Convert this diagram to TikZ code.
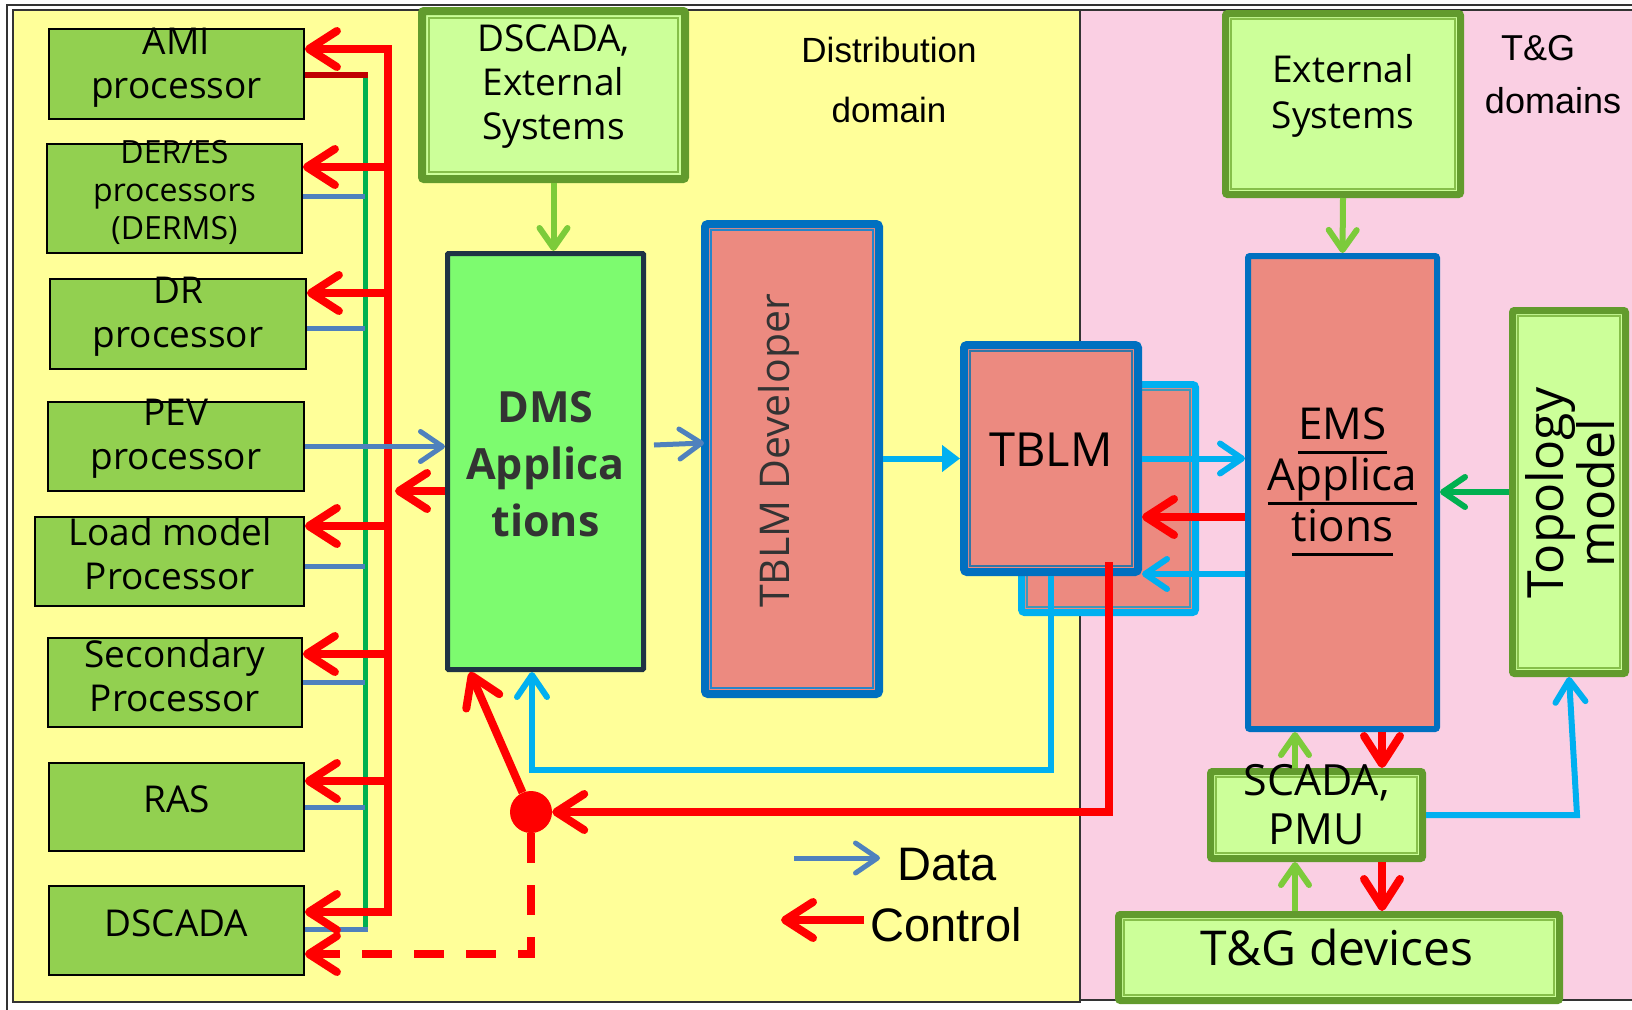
\documentclass[tikz,border=0pt]{standalone}
\usepackage{fontspec}
\setmainfont{Open Sans}
\newfontfamily\arialf{Liberation Sans}
\usetikzlibrary{arrows.meta,calc}
\definecolor{yel}{HTML}{FFFF99}
\definecolor{pnk}{HTML}{FACFE3}
\definecolor{lgreen}{HTML}{92D050}
\definecolor{pgreen}{HTML}{CCFF99}
\definecolor{bgreen}{HTML}{629B2D}
\definecolor{ilg}{HTML}{86BF4A}
\definecolor{dmsg}{HTML}{7DFB6F}
\definecolor{salmon}{HTML}{EC8A80}
\definecolor{dblue}{HTML}{0070C0}
\definecolor{cyanb}{HTML}{00B0F0}
\definecolor{sblue}{HTML}{4F81BD}
\definecolor{gline}{HTML}{00B050}
\definecolor{agreen}{HTML}{7CCB3A}
\definecolor{navy}{HTML}{1F3344}
\definecolor{dred}{HTML}{C00000}
\definecolor{txtg}{HTML}{333333}
\newcommand\myul[1]{\setbox0\hbox{#1}\rlap{\rule[-14pt]{\wd0}{2.6pt}}\box0}
\begin{document}
\begin{tikzpicture}[x=1pt,y=-1pt,
  lbox/.style={draw=black,line width=1.8pt,fill=lgreen,rectangle,inner sep=0pt},
  ltxt/.style={align=center,inner sep=0pt,font=\fontsize{37}{44}\selectfont},
  gbox/.style={draw=bgreen,line width=7pt,fill=pgreen,rectangle,rounded corners=2pt,inner sep=0pt},
  ctl/.style={draw=red,line width=8pt,-{Straight Barb[length=28pt,width=36pt,round]}},
  dat/.style={draw=sblue,line width=5pt,-{Straight Barb[length=22pt,width=30pt,round]}},
  cya/.style={draw=cyanb,line width=6pt,-{Straight Barb[length=22pt,width=30pt,round]}},
  lga/.style={draw=agreen,line width=6pt,-{Straight Barb[length=20pt,width=28pt,round]}},
  ininner/.style={line width=1.3pt},
]
\useasboundingbox (0,0) rectangle (1632,1009);
\fill[white] (0,0) rectangle (1632,1009);
\draw[black!80,line width=1.5pt] (7,5) rectangle (1650,1025);
\draw[black!80,line width=2pt,fill=yel] (13,10) rectangle (1080,1002);
\draw[black!80,line width=1.5pt,fill=pnk] (1080,10) rectangle (1645,1000);

% ---- left boxes
\node[lbox,minimum width=255pt,minimum height=90pt] (ami) at (176.5,74) {};
\node[ltxt] (tami) at (176.5,68) {AMI\\processor};
\node[lbox,minimum width=255pt,minimum height=109pt] (der) at (174.5,198.5) {};
\node[ltxt,font=\fontsize{32}{38}\selectfont] (tder) at (174.5,192) {DER/ES\\processors\\(DERMS)};
\node[lbox,minimum width=256pt,minimum height=90pt] (dr) at (178,324) {};
\node[ltxt] (tdr) at (178,317) {DR\\processor};
\node[lbox,minimum width=256pt,minimum height=89pt] (pev) at (176,446.5) {};
\node[ltxt] (tpev) at (176,439) {PEV\\processor};
\node[lbox,minimum width=269pt,minimum height=89pt] (lm) at (169.5,561.5) {};
\node[ltxt] (tlm) at (170,554) {Load model\\Processor};
\node[lbox,minimum width=254pt,minimum height=89pt] (sec) at (175,682.5) {};
\node[ltxt] (tsec) at (175,676) {Secondary\\Processor};
\node[lbox,minimum width=255pt,minimum height=88pt] (ras) at (176.5,807) {};
\node[ltxt] (tras) at (176.5,799) {RAS};
\node[lbox,minimum width=255pt,minimum height=89pt] (dsc) at (176.5,930.5) {};
\node[ltxt] (tdsc) at (176.5,923) {DSCADA};

% ---- bus lines
\coordinate (g1) at (365,75);
\coordinate (g8) at (365,929);
\draw[gline,line width=5pt] (g1) -- (g8);
\draw[dred,line width=5.5pt] (ami.east |- g1) -- ([xshift=2.5pt]g1);
\coordinate (s2) at (365,196);
\coordinate (s3) at (365,328);
\coordinate (s5) at (365,566);
\coordinate (s6) at (365,682);
\coordinate (s7) at (365,807);
\draw[sblue,line width=5pt] (der.east |- s2) -- (s2);
\draw[sblue,line width=5pt] (dr.east |- s3) -- (s3);
\draw[sblue,line width=5pt] (lm.east |- s5) -- (s5);
\draw[sblue,line width=5pt] (sec.east |- s6) -- (s6);
\draw[sblue,line width=5pt] (ras.east |- s7) -- (s7);
\draw[sblue,line width=5pt] (dsc.east |- g8) -- ([xshift=2.5pt]g8);

\coordinate (b1) at (388,49);
\coordinate (b2) at (388,167);
\coordinate (b3) at (388,293);
\coordinate (b5) at (388,526);
\coordinate (b6) at (388,654);
\coordinate (b7) at (388,781);
\coordinate (b8) at (388,912);
\draw[red,line width=8pt,line cap=rect] (b1) -- (b8);
\draw[ctl] (b1) -- (ami.east |- b1);
\draw[ctl] (b2) -- (der.east |- b2);
\draw[ctl] (b3) -- (dr.east |- b3);
\draw[ctl] (b5) -- (lm.east |- b5);
\draw[ctl] (b6) -- (sec.east |- b6);
\draw[ctl] (b7) -- (ras.east |- b7);
\draw[ctl] (b8) -- (dsc.east |- b8);

% ---- DMS
\node[draw=navy,line width=5pt,fill=dmsg,minimum width=196pt,minimum height=416pt,inner sep=0pt,rounded corners=1pt] (dms) at (545.5,461.5) {};
\node[font=\fontsize{43}{57}\selectfont\bfseries,text=txtg,align=center,inner sep=0pt] (tdms) at (545.5,464) {DMS\\Applica\\tions};
\draw[dat] (pev.east) -- (pev.east -| dms.west);
\coordinate (b4) at (395,491);
\draw[ctl] (dms.west |- b4) -- (b4);

% ---- DSCADA external
\node[gbox,line width=8pt,minimum width=263pt,minimum height=168pt] (dext) at (553.5,95) {};
\draw[ilg,ininner] ($(dext.north west)+(11,11)$) rectangle ($(dext.south east)+(-11,-11)$);
\node[ltxt] (tdext) at (553.5,87) {DSCADA,\\External\\Systems};
\draw[lga] (dext.south) -- (dext.south |- dms.north);

\node[font=\arialf\fontsize{35}{60}\selectfont,align=center] (ddom) at (889,80) {Distribution\\domain};

% ---- TBLM developer
\node[draw=dblue,line width=8pt,fill=salmon,minimum width=174pt,minimum height=470pt,inner sep=0pt,rounded corners=3pt] (tdev) at (792,459) {};
\draw[dblue!85,ininner] ($(tdev.north west)+(10,10)$) rectangle ($(tdev.south east)+(-10,-10)$);
\node[rotate=90,font=\fontsize{41}{48}\selectfont,text=txtg,inner sep=0pt] (ttdev) at (779,451) {TBLM Developer};
\draw[dat] ($(dms.east)+(8,-16.5)$) -- ($(tdev.west)+(3,-16)$);

% ---- TBLM
\node[draw=cyanb,line width=7pt,fill=salmon,minimum width=174pt,minimum height=228pt,inner sep=0pt,rounded corners=3pt] (tsh) at (1108.5,498.5) {};
\draw[cyanb!50!gray,ininner] ($(tsh.north west)+(9,9)$) rectangle ($(tsh.south east)+(-9,-9)$);
\node[draw=dblue,line width=8pt,fill=salmon,minimum width=174pt,minimum height=227pt,inner sep=0pt,rounded corners=3pt] (tblm) at (1051,458.5) {};
\draw[dblue!60!gray,ininner] ($(tblm.north west)+(10,10)$) rectangle ($(tblm.south east)+(-10,-10)$);
\node[font=\fontsize{47}{50}\selectfont,inner sep=0pt] (ttblm) at (1051,450) {TBLM};
\draw[cyanb,line width=6pt,-{Triangle[length=18pt,width=26pt]}] (tblm.west -| tdev.east) -- (tblm.west);

% ---- right side
\node[gbox,minimum width=235pt,minimum height=181pt] (ext) at (1343,104) {};
\draw[ilg,ininner] ($(ext.north west)+(9,9)$) rectangle ($(ext.south east)+(-9,-9)$);
\node[ltxt,font=\fontsize{37}{46}\selectfont] (text) at (1343,96) {External\\Systems};
\node[font=\arialf\fontsize{36}{40}\selectfont,inner sep=0pt] (tgd1) at (1538,48) {T\&G};
\node[font=\arialf\fontsize{36}{40}\selectfont,inner sep=0pt] (tgd2) at (1553,101) {domains};

\node[draw=dblue,line width=6pt,fill=salmon,minimum width=189pt,minimum height=473pt,inner sep=0pt,rounded corners=2pt] (ems) at (1342.5,492.5) {};
\node[font=\fontsize{44}{51}\selectfont,align=center,inner sep=0pt] (tems) at (1342.5,482) {\myul{EMS}\\\myul{Applica}\\\myul{tions}};
\draw[lga] (ext.south) -- (ems.north);

\node[gbox,minimum width=113pt,minimum height=363pt] (topo) at (1569,492) {};
\draw[ilg,ininner] ($(topo.north west)+(9,9)$) rectangle ($(topo.south east)+(-9,-9)$);
\node[rotate=90,font=\fontsize{50}{44}\selectfont,align=center,inner sep=0pt] (ttopo) at (1570,493) {Topology\\model};
\draw[gline,line width=6pt,-{Straight Barb[length=22pt,width=30pt,round]}] (topo.west) -- (topo.west -| ems.east);

\node[gbox,minimum width=212pt,minimum height=87pt] (scada) at (1316.5,815) {};
\draw[ilg,ininner] ($(scada.north west)+(9,9)$) rectangle ($(scada.south east)+(-9,-9)$);
\node[font=\fontsize{43}{49}\selectfont,align=center,inner sep=0pt] (tscada) at (1316.5,805) {SCADA,\\PMU};
\node[gbox,minimum width=441pt,minimum height=86pt] (tg) at (1339,957.5) {};
\draw[ilg,ininner] ($(tg.north west)+(9,9)$) rectangle ($(tg.south east)+(-9,-9)$);
\node[font=\fontsize{48}{50}\selectfont,inner sep=0pt] (ttg) at (1337,947) {T\&G devices};

% ---- connectors TBLM / EMS
\draw[cya] (tblm.east) -- (tblm.east -| ems.west);
\coordinate (r517) at (1200,517);
\coordinate (c574) at (1200,574);
\draw[ctl] (ems.west |- r517) -- (tblm.east |- r517);
\draw[cya] (ems.west |- c574) -- (tblm.east |- c574);

\coordinate (xg) at (1295,0);
\coordinate (xr) at (1382,0);
\draw[lga] (scada.north -| xg) -- (ems.south -| xg);
\draw[ctl] (ems.south -| xr) -- (scada.north -| xr);
\draw[lga] (tg.north -| xg) -- (scada.south -| xg);
\draw[ctl] (scada.south -| xr) -- (tg.north -| xr);
\coordinate (tc) at (1577,815);
\draw[cya] (scada.east) -- (tc) -- (topo.south);

% ---- feedback loops
\coordinate (c1) at (1051,770);
\coordinate (c2) at (532,770);
\draw[cya] (tblm.south) -- (c1) -- (c2) -- (dms.south -| c2);

\node[circle,fill=red,minimum size=42pt,inner sep=0pt] (dot) at (531,812) {};
\coordinate (r1) at ($(tblm.south)+(58,-14)$);
\draw[ctl] (r1) |- (dot.east);
\draw[ctl] (dot) -- ($(dms.south)+(-75.5,0)$);
\coordinate (d1) at (531,954);
\draw[ctl,dash pattern=on 30pt off 22pt] (dot.south) -- (d1) -- (dsc.east |- d1);

% ---- legend
\coordinate (ld1) at (794,858);
\coordinate (ld2) at (880,858);
\draw[dat] (ld1) -- (ld2);
\node[font=\arialf\fontsize{47}{50}\selectfont,inner sep=0pt] (ldata) at (947,865) {Data};
\coordinate (lc1) at (864,920);
\coordinate (lc2) at (781,920);
\draw[ctl] (lc1) -- (lc2);
\node[font=\arialf\fontsize{47}{50}\selectfont,inner sep=0pt] (lctl) at (946,925) {Control};
\end{tikzpicture}
\end{document}
